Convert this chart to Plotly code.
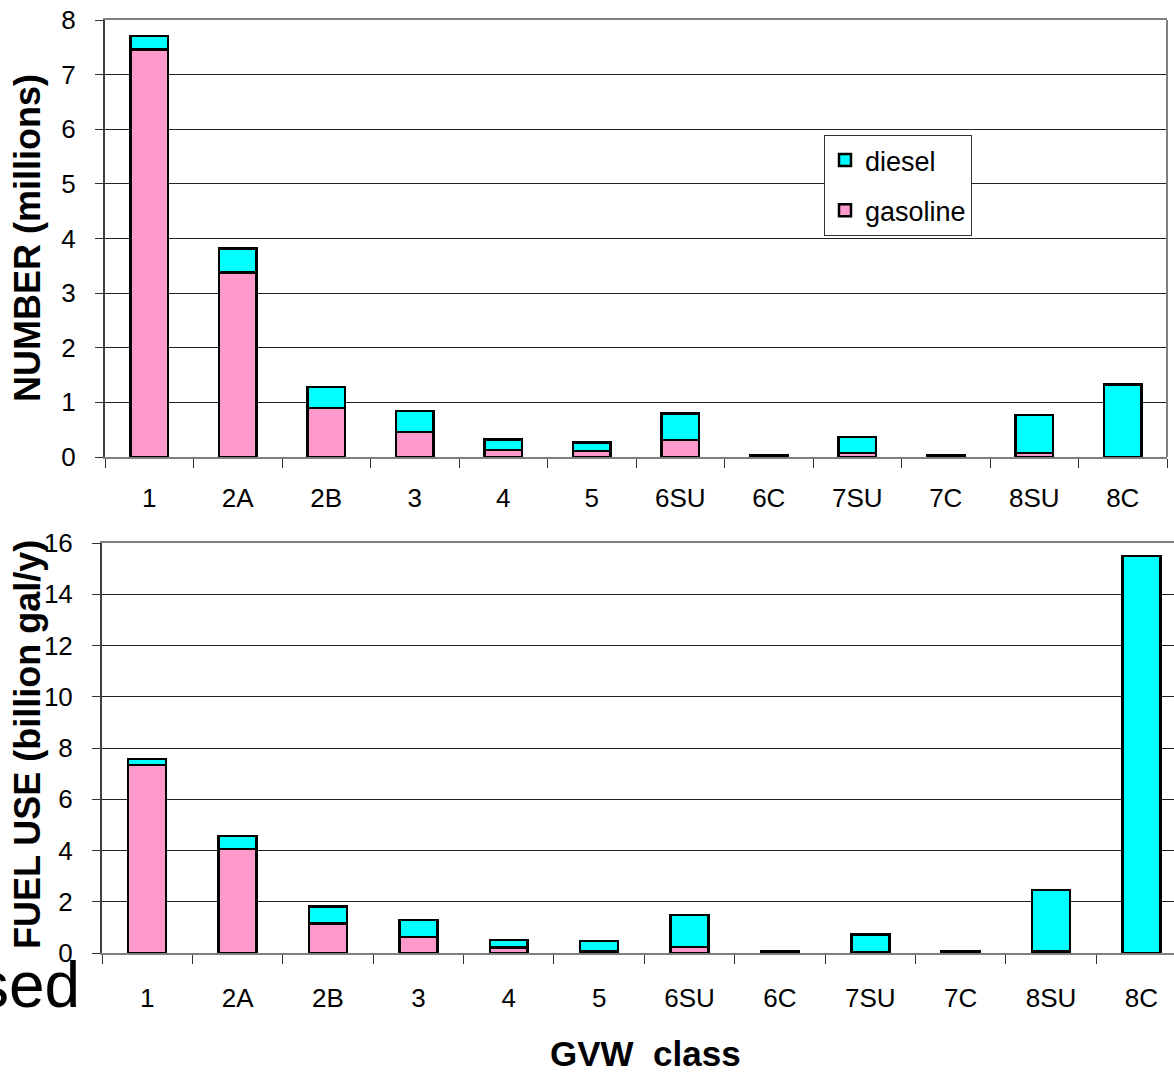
import plotly.graph_objects as go

categories = ["1", "2A", "2B", "3", "4", "5", "6SU", "6C", "7SU", "7C", "8SU", "8C"]

# Top panel: NUMBER (millions)
number_gasoline = [7.46, 3.38, 0.90, 0.46, 0.13, 0.11, 0.31, 0.01, 0.07, 0.01, 0.07, 0.0]
number_diesel = [0.25, 0.44, 0.38, 0.38, 0.19, 0.16, 0.49, 0.03, 0.30, 0.03, 0.70, 1.33]

# Bottom panel: FUEL USE (billion gal/y)
fuel_gasoline = [7.33, 4.05, 1.16, 0.62, 0.22, 0.05, 0.24, 0.02, 0.03, 0.02, 0.05, 0.0]
fuel_diesel = [0.24, 0.51, 0.65, 0.67, 0.28, 0.41, 1.25, 0.04, 0.70, 0.04, 2.41, 15.5]

PINK = "#FF99CC"
CYAN = "#00FFFF"
FONT = "Liberation Sans, Arial, sans-serif"
W, H = 1174, 1073

fig = go.Figure()
bw = 0.42
line = dict(color="black", width=2.5)

fig.add_trace(go.Bar(x=categories, y=number_gasoline, name="gasoline", marker=dict(color=PINK, line=line),
                     width=bw, xaxis="x", yaxis="y", legendgroup="g", legendrank=2, showlegend=True))
fig.add_trace(go.Bar(x=categories, y=number_diesel, name="diesel", marker=dict(color=CYAN, line=line),
                     width=bw, xaxis="x", yaxis="y", legendgroup="d", legendrank=1, showlegend=True))
fig.add_trace(go.Bar(x=categories, y=fuel_gasoline, name="gasoline", marker=dict(color=PINK, line=line),
                     width=bw, xaxis="x2", yaxis="y2", legendgroup="g", legendrank=2, showlegend=False))
fig.add_trace(go.Bar(x=categories, y=fuel_diesel, name="diesel", marker=dict(color=CYAN, line=line),
                     width=bw, xaxis="x2", yaxis="y2", legendgroup="d", legendrank=1, showlegend=False))

tickfont = dict(family=FONT, size=26, color="black")
axcol = "#808080"
ycol = "#404040"

fig.update_layout(
    width=W, height=H,
    barmode="stack",
    plot_bgcolor="white", paper_bgcolor="white",
    margin=dict(l=0, r=0, t=0, b=0),
    showlegend=True,
    legend=dict(x=824 / W, y=1 - 135 / H, xanchor="left", yanchor="top",
                traceorder="grouped", font=dict(family=FONT, size=27, color="black"),
                bgcolor="white", bordercolor="#333333", borderwidth=1,
                tracegroupgap=12, itemwidth=30),
    xaxis=dict(domain=[105 / W, 1167 / W], anchor="y", type="category",
               range=[-0.5, 11.5], showline=True, linecolor=axcol, linewidth=2, mirror=True,
               ticks="outside", tickson="boundaries", ticklen=9, tickcolor="#333",
               tickfont=tickfont, ticklabelstandoff=17, automargin=False),
    yaxis=dict(domain=[1 - 457 / H, 1 - 20 / H], anchor="x", range=[0, 8], dtick=1,
               showline=True, linecolor=ycol, linewidth=2, mirror=False,
               showgrid=True, gridcolor="#222222", gridwidth=1,
               ticks="outside", ticklen=8, tickcolor="#333", zeroline=False,
               tickfont=tickfont, ticklabelstandoff=14, automargin=False),
    xaxis2=dict(domain=[102 / W, 1.0], anchor="y2", type="category",
                range=[-0.5, 11.36], showline=True, linecolor=axcol, linewidth=2, mirror=True,
                ticks="outside", tickson="boundaries", ticklen=9, tickcolor="#333",
                tickfont=tickfont, ticklabelstandoff=21, automargin=False),
    yaxis2=dict(domain=[1 - 953 / H, 1 - 543 / H], anchor="x2", range=[0, 16], dtick=2,
                showline=True, linecolor=ycol, linewidth=2, mirror=False,
                showgrid=True, gridcolor="#222222", gridwidth=1,
                ticks="outside", ticklen=8, tickcolor="#333", zeroline=False,
                tickfont=tickfont, ticklabelstandoff=14, automargin=False),
)

# right border of top panel
fig.add_shape(type="line", xref="x domain", yref="y domain", x0=1, x1=1, y0=0, y1=1,
              line=dict(color=axcol, width=2))

fig.add_annotation(text="<b>NUMBER (millions)</b>", textangle=-90, xref="paper", yref="paper",
                   x=27 / W, y=1 - 238 / H, xanchor="center", yanchor="middle", showarrow=False,
                   font=dict(family=FONT, size=36, color="black"))
fig.add_annotation(text="<b>FUEL USE (billion gal/y)</b>", textangle=-90, xref="paper", yref="paper",
                   x=27 / W, y=1 - 745 / H, xanchor="center", yanchor="middle", showarrow=False,
                   font=dict(family=FONT, size=36, color="black"))
fig.add_annotation(text="<b>GVW  class</b>", xref="paper", yref="paper",
                   x=645 / W, y=1 - 1053 / H, xanchor="center", yanchor="middle", showarrow=False,
                   font=dict(family=FONT, size=35, color="black"))
fig.add_annotation(text="sed", xref="paper", yref="paper", xanchor="right", yanchor="middle",
                   x=82 / W, y=1 - 985 / H, showarrow=False,
                   font=dict(family="Liberation Sans Narrow, Liberation Sans", size=64, color="black"))

fig.write_html("out.html", config={"displayModeBar": False},
               post_script="document.body.style.margin='0';document.body.style.overflow='hidden';")
